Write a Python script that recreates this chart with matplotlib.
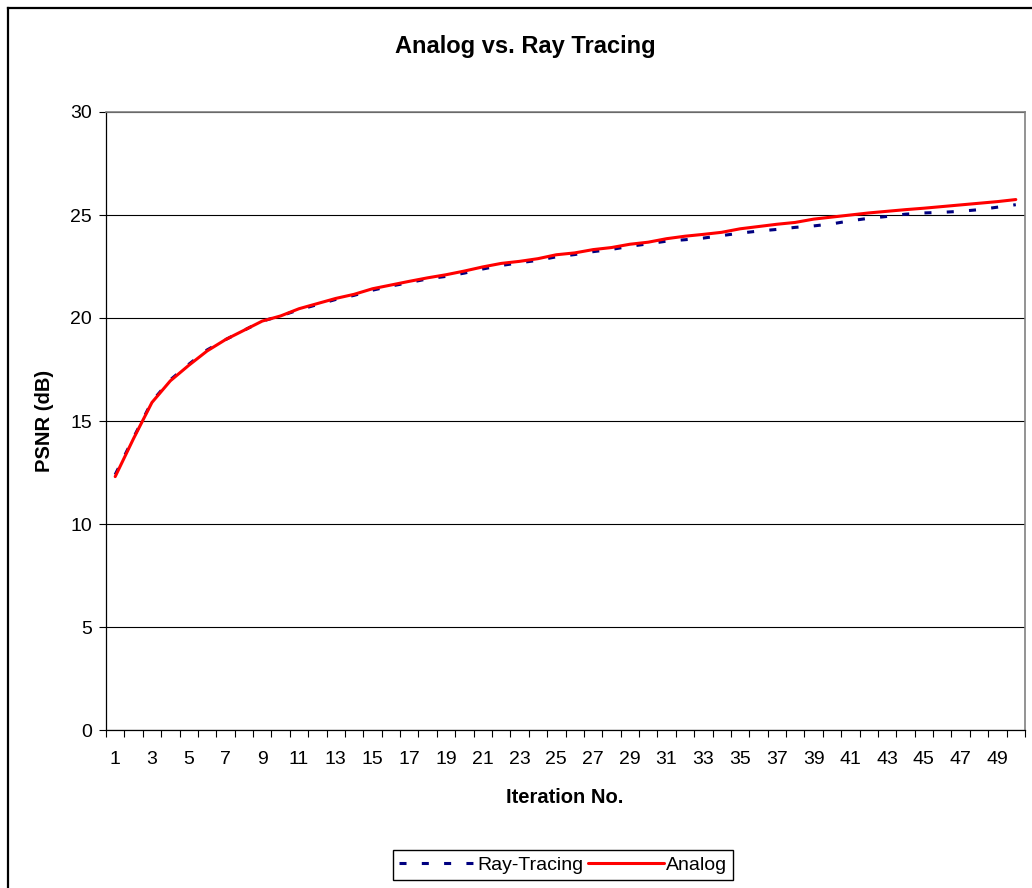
import matplotlib
matplotlib.use("Agg")
import matplotlib.pyplot as plt
from matplotlib.lines import Line2D

plt.rcParams['font.family'] = ['Liberation Sans', 'DejaVu Sans']

title = "Analog vs. Ray Tracing"
x_label = "Iteration No."
y_label = "PSNR (dB)"
series_names = ["Ray-Tracing", "Analog"]

iterations = list(range(1, 51))
ray_tracing = [12.4, 14.2, 15.95, 17.0, 17.75, 18.45, 18.95, 19.4, 19.85, 20.1,
               20.4, 20.65, 20.9, 21.1, 21.35, 21.55, 21.72, 21.9, 22.02, 22.18,
               22.38, 22.55, 22.68, 22.8, 22.97, 23.08, 23.22, 23.33, 23.48, 23.6,
               23.73, 23.8, 23.88, 24.0, 24.12, 24.22, 24.3, 24.4, 24.47, 24.57,
               24.72, 24.84, 24.93, 25.04, 25.1, 25.13, 25.18, 25.26, 25.38, 25.5]
analog = [12.3, 14.15, 15.9, 16.95, 17.7, 18.4, 18.95, 19.4, 19.85, 20.1,
          20.45, 20.7, 20.95, 21.15, 21.42, 21.6, 21.78, 21.95, 22.1, 22.28,
          22.48, 22.65, 22.75, 22.88, 23.07, 23.16, 23.32, 23.42, 23.58, 23.68,
          23.85, 23.97, 24.06, 24.16, 24.33, 24.44, 24.55, 24.64, 24.8, 24.9,
          25.0, 25.1, 25.18, 25.26, 25.33, 25.41, 25.49, 25.57, 25.65, 25.75]
y_ticks = [0, 5, 10, 15, 20, 25, 30]

W, H = 1032, 888
fig = plt.figure(figsize=(W / 100, H / 100), dpi=100)
fig.patch.set_facecolor("white")

# outer chart frame (left and top edges)
fig.add_artist(Line2D([8 / W, 8 / W], [0, 1 - 8 / H], transform=fig.transFigure,
                      color="black", lw=1.6))
fig.add_artist(Line2D([8 / W, 1], [1 - 8 / H, 1 - 8 / H], transform=fig.transFigure,
                      color="black", lw=1.6))

left, right, top, bottom = 106, 1025, 112, 730
ax = fig.add_axes([left / W, 1 - bottom / H, (right - left) / W, (bottom - top) / H])

ax.plot(iterations, ray_tracing, color="#000080", lw=2.2, dashes=(2.3, 5),
        label=series_names[0], zorder=3)
ax.plot(iterations, analog, color="#ff0000", lw=2.2, label=series_names[1],
        zorder=4, solid_capstyle="round")

ax.set_xlim(0.5, 50.5)
ax.set_ylim(0, 30)

ax.set_yticks(y_ticks)
ax.yaxis.grid(True, color="black", lw=0.8)
ax.set_axisbelow(True)

# tick marks at category boundaries, labels on odd categories
ax.set_xticks([i + 0.5 for i in range(0, 51)])
ax.set_xticklabels([])
ax.set_xticks([i for i in iterations if i % 2 == 1], minor=True)
ax.set_xticklabels([str(i) for i in iterations if i % 2 == 1], minor=True)
ax.tick_params(axis="x", which="major", direction="out", length=5, width=0.8, color="black")
ax.tick_params(axis="x", which="minor", length=0, pad=15, labelsize=14)
ax.tick_params(axis="y", direction="out", length=5, width=0.8, labelsize=14, pad=5)

for s in ("top", "right"):
    ax.spines[s].set_color("#808080")
    ax.spines[s].set_linewidth(1.2)
ax.spines["left"].set_color("black")
ax.spines["bottom"].set_color("black")
ax.spines["left"].set_linewidth(0.9)
ax.spines["bottom"].set_linewidth(0.9)

fig.text(525 / W, 1 - 46 / H, title, ha="center", va="center",
         fontsize=17, fontweight="bold")
fig.text(45 / W, 1 - 421 / H, y_label, ha="center", va="center", rotation=90,
         fontsize=14.5, fontweight="bold")
fig.text(565 / W, 1 - 797 / H, x_label, ha="center", va="center",
         fontsize=14.5, fontweight="bold")

leg = fig.legend(loc="center", bbox_to_anchor=(563 / W, 1 - 865 / H), ncol=2,
                 frameon=True, fancybox=False, fontsize=14, handlelength=3.9,
                 handletextpad=0.1, columnspacing=0.25, borderpad=0.3,
                 edgecolor="black", framealpha=1)
leg.get_frame().set_linewidth(1.0)

fig.savefig("out.png", dpi=100)
